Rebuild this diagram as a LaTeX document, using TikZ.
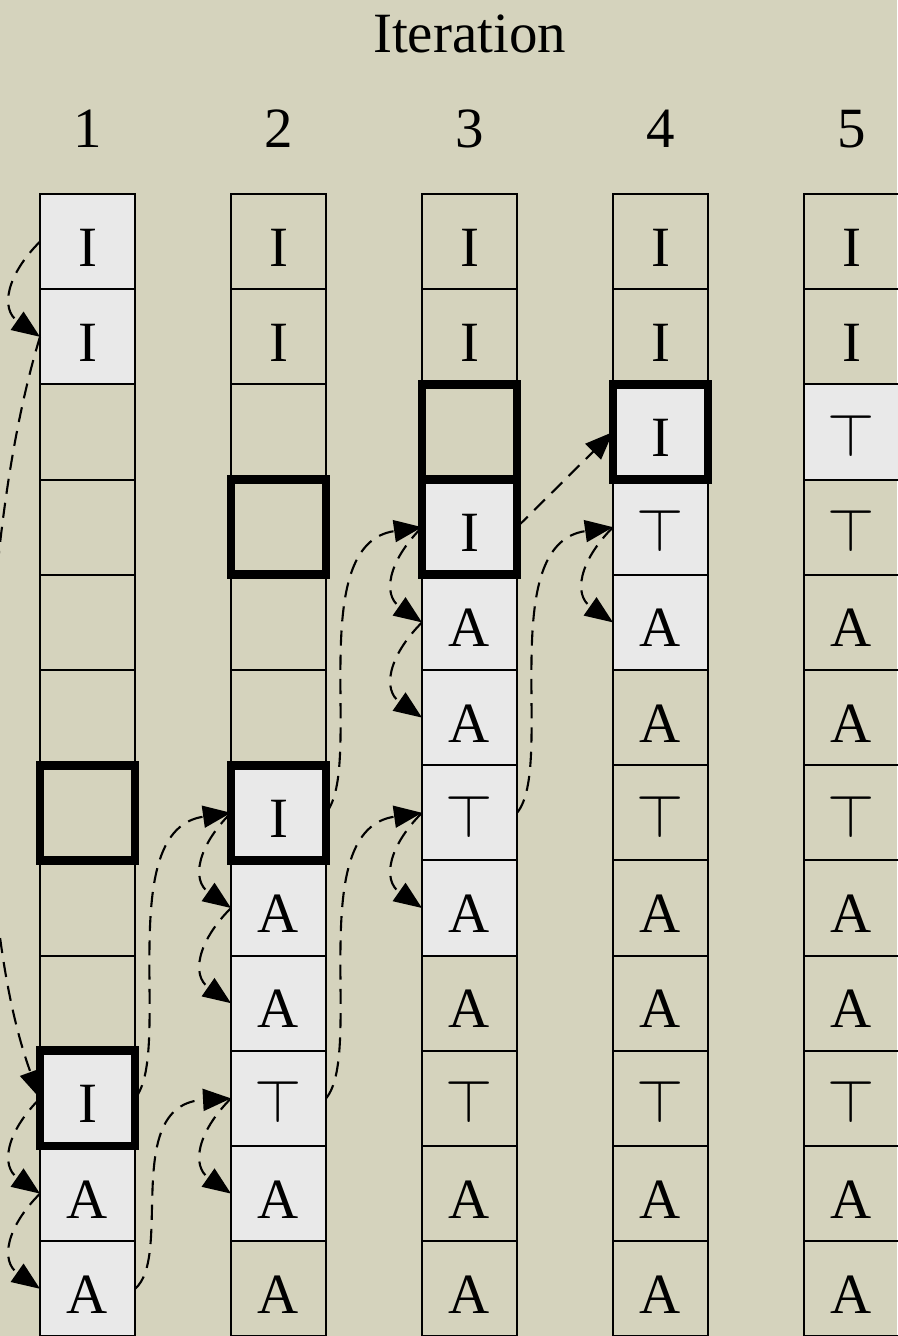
\documentclass[tikz,border=0pt]{standalone}
\usepackage{fontspec}
\setmainfont{Liberation Serif}
\usetikzlibrary{arrows.meta}

\definecolor{paper}{RGB}{213,211,189}
\definecolor{cellgray}{RGB}{233,233,233}

\begin{document}
\begin{tikzpicture}[line cap=butt,
	font=\fontsize{16.2}{19}\selectfont,
	cell/.style={draw,line width=0.6pt,minimum width=0.95cm,minimum height=0.952cm,
		inner sep=0pt,outer sep=0pt,text height=0.49cm,text depth=0pt},
	full/.style={fill=cellgray},
	void/.style={},
	hot/.style={line width=2.5pt},
	link/.style={-{Triangle[length=2.8mm,width=2.2mm]},line width=0.6pt,
		dash pattern=on 4.3pt off 2.6pt}]
	
	% ---- 背景与画布大小 ----
	\fill[paper] (0,0) rectangle (8.97,-13.36);
	\useasboundingbox (0,0) rectangle (8.97,-13.36);
	
	% ---- 标题与迭代编号 ----
	\node[anchor=base] (title) at (4.695,-0.52) {Iteration};
	\foreach \col in {1,...,5}
	\node[anchor=base] (num\col) at ({1.91*\col-1.035},-1.47) {\col};
	
	% ---- 每一列的格子（内容/底色）----
	\foreach \col/\items in {
		1/{I/full,I/full,{}/void,{}/void,{}/void,{}/void,{}/void,{}/void,{}/void,I/full,A/full,A/full},
		2/{I/void,I/void,{}/void,{}/void,{}/void,{}/void,I/full,A/full,A/full,$\top$/full,A/full,A/void},
		3/{I/void,I/void,{}/void,I/full,A/full,A/full,$\top$/full,A/full,A/void,$\top$/void,A/void,A/void},
		4/{I/void,I/void,I/full,$\top$/full,A/full,A/void,$\top$/void,A/void,A/void,$\top$/void,A/void,A/void},
		5/{I/void,I/void,$\top$/full,$\top$/void,A/void,A/void,$\top$/void,A/void,A/void,$\top$/void,A/void,A/void}}
	{
		\foreach \lab/\sh [count=\rw] in \items
		\node[cell,\sh] (c\col-\rw) at ({1.91*\col-1.035},{-1.464-0.952*\rw}) {\lab};
	}
	
	% ---- 粗框：当前位置 ----
	\foreach \col/\rw in {1/7,1/10,2/4,2/7,3/3,3/4,4/3}
	\draw[hot] (c\col-\rw.north west) rectangle (c\col-\rw.south east);
	
	% ---- 列内链接（左侧）----
	\foreach \a/\b in {1-1/1-2,1-10/1-11,1-11/1-12,2-7/2-8,2-8/2-9,2-10/2-11,
		3-4/3-5,3-5/3-6,3-7/3-8,4-4/4-5}
	\draw[link] (c\a.west) to[out=225,in=145,looseness=1.3] (c\b.west);
	\draw[link] (c1-2.west) .. controls +(253:2.1) and +(110:2.1) .. (c1-10.west);
	
	% ---- 跨列移动（右侧 -> 下一列左侧）----
	\foreach \a/\b in {1-10/2-7,2-7/3-4,2-10/3-7,3-7/4-4}
	\draw[link] (c\a.east) .. controls +(50:0.6) and +(188:1.2) .. (c\b.west);
	\draw[link] (c1-12.east) .. controls +(40:0.5) and +(183:1.1) .. (c2-10.west);
	\draw[link] (c3-4.east) -- (c4-3.west);
	
\end{tikzpicture}
\end{document}
